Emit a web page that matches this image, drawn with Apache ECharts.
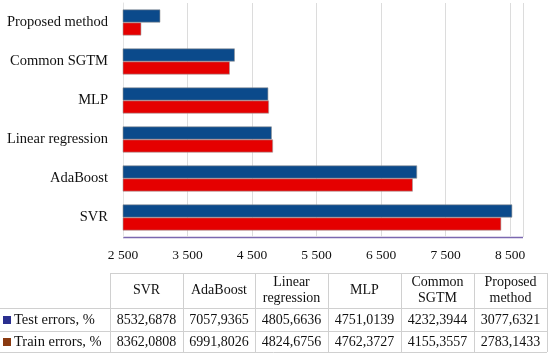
<!DOCTYPE html>
<html><head><meta charset="utf-8">
<script src="https://cdn.jsdelivr.net/npm/echarts@6/dist/echarts.min.js"></script>
<style>html,body{margin:0;padding:0;background:#fff}#c{width:550px;height:358px}</style>
</head><body><div id="c"></div>
<script>
const categories = ['SVR', 'AdaBoost', 'Linear regression', 'MLP', 'Common SGTM', 'Proposed method'];
const headerLabels = [['SVR'], ['AdaBoost'], ['Linear', 'regression'], ['MLP'], ['Common', 'SGTM'], ['Proposed', 'method']];
const testErrors = [8532.6878, 7057.9365, 4805.6636, 4751.0139, 4232.3944, 3077.6321];
const trainErrors = [8362.0808, 6991.8026, 4824.6756, 4762.3727, 4155.3557, 2783.1433];
const seriesNames = ['Test errors, %', 'Train errors, %'];
const xMin = 2500, xMax = 8700, xInterval = 1000;

const FONT = '"Liberation Serif", "DejaVu Serif", serif';
const BLUE = '#0b4a8b', RED = '#e50000';
const LEG_BLUE = '#2a2f8f', LEG_RED = '#8a3a10';
const fmtNum = v => v.toFixed(4).replace('.', ',');
const fmtTick = v => { const s = String(v); return s.length > 3 ? s.slice(0, s.length - 3) + ' ' + s.slice(-3) : s; };

const chart = echarts.init(document.getElementById('c'));

// table geometry
const colX = [110, 183, 255, 328, 401, 474, 547];
const rowY = [273, 308, 331, 352];
const LINE = '#d0d0d0';
const g = [];
function hline(x1, x2, y) { g.push({type: 'line', shape: {x1, y1: y, x2, y2: y}, style: {stroke: LINE, lineWidth: 1}}); }
function vline(x, y1, y2) { g.push({type: 'line', shape: {x1: x, y1, x2: x, y2}, style: {stroke: LINE, lineWidth: 1}}); }
hline(colX[0], colX[6], rowY[0] + 0.5);
hline(0, colX[6], rowY[1] + 0.5);
hline(0, colX[6], rowY[2] + 0.5);
hline(0, colX[6], rowY[3] + 0.5);
colX.forEach(x => vline(x + 0.5, rowY[0], rowY[3]));
function txt(x, y, t, align, size) {
  g.push({type: 'text', x, y, style: {text: t, fill: '#111', font: (size || 14) + 'px ' + FONT, align: align || 'center', verticalAlign: 'middle'}});
}
headerLabels.forEach((lines, i) => {
  const cx = (colX[i] + colX[i + 1]) / 2;
  const cy = (rowY[0] + rowY[1]) / 2;
  if (lines.length === 1) txt(cx, cy, lines[0]);
  else { txt(cx, cy - 8, lines[0]); txt(cx, cy + 8, lines[1]); }
});
[testErrors, trainErrors].forEach((arr, r) => {
  const cy = (rowY[r + 1] + rowY[r + 2]) / 2 + 0.5;
  arr.forEach((v, i) => txt((colX[i] + colX[i + 1]) / 2, cy, fmtNum(v)));
  g.push({type: 'rect', shape: {x: 3, y: cy - 4, width: 8, height: 8}, style: {fill: r === 0 ? LEG_BLUE : LEG_RED}});
  txt(14, cy, seriesNames[r], 'left', 14.5);
});

chart.setOption({
  animation: false,
  grid: {left: 123, right: 27, top: 3, bottom: 121, containLabel: false},
  xAxis: {
    type: 'value', min: xMin, max: xMax, interval: xInterval,
    axisLine: {show: false}, axisTick: {show: false},
    splitLine: {show: true, lineStyle: {color: '#dcdcdc', width: 1}},
    axisLabel: {formatter: v => (v % 1000 === 500 ? fmtTick(v) : ''), color: '#111', fontFamily: FONT, fontSize: 13.5, margin: 11, showMaxLabel: false}
  },
  yAxis: {
    type: 'category', data: categories,
    axisLine: {show: true, lineStyle: {color: '#e4e4e4'}}, axisTick: {show: false},
    axisLabel: {color: '#111', fontFamily: FONT, fontSize: 14.5, margin: 15}
  },
  graphic: [{type: 'line', shape: {x1: 123, y1: 237.5, x2: 523, y2: 237.5}, style: {stroke: '#7b68b0', lineWidth: 1.5}}].concat(g),
  series: [
    {name: seriesNames[0], type: 'bar', data: testErrors, barWidth: 13, barGap: '0%',
     itemStyle: {color: BLUE, borderColor: '#909090', borderWidth: 0.6}},
    {name: seriesNames[1], type: 'bar', data: trainErrors, barWidth: 13, barGap: '0%',
     itemStyle: {color: RED, borderColor: '#a0a0a0', borderWidth: 0.6}}
  ]
});
</script></body></html>
